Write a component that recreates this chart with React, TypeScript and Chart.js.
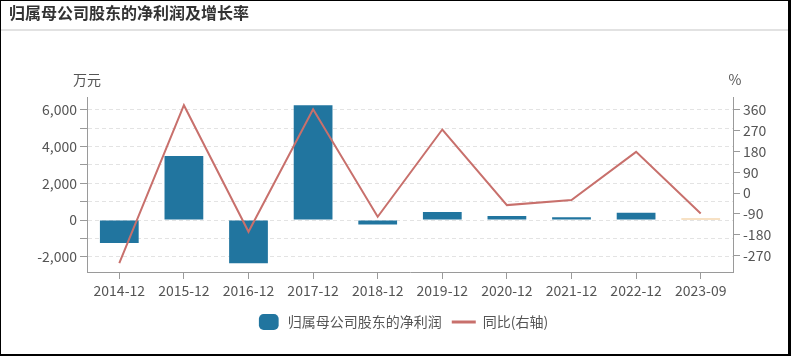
import React, { useEffect, useRef } from "react";
import { Chart, registerables } from "chart.js";

Chart.register(...registerables);

const categories = ["2014-12", "2015-12", "2016-12", "2017-12", "2018-12", "2019-12", "2020-12", "2021-12", "2022-12", "2023-09"];
const netProfit = [-1253, 3488, -2360, 6250, -250, 436, 218, 147, 403, 80];
const yoyGrowth = [-301.5, 378.6, -166.7, 361.4, -102, 274, -51.8, -30.3, 177.6, -87.6];
const leftTicks = [-2000, -1000, 0, 1000, 2000, 3000, 4000, 5000, 6000];
const rightTicks = [-270, -180, -90, 0, 90, 180, 270, 360];
const barName = "归属母公司股东的净利润";
const lineName = "同比(右轴)";
const chartTitle = "归属母公司股东的净利润及增长率";
const leftUnit = "万元";
const rightUnit = "%";

const FONT = '"Noto Sans CJK SC", "Noto Sans", sans-serif';
const BLUE = "#21759f";
const LAST = "#f0c489";
const RED = "#c8706c";
const AXIS = "#9a9a9a";
const TEXT = "#555";

const unitPlugin = {
  id: "unitTitles",
  afterDraw(chart: any) {
    const { ctx, chartArea } = chart;
    ctx.save();
    ctx.font = `14px ${FONT}`;
    ctx.fillStyle = TEXT;
    ctx.textAlign = "center";
    ctx.textBaseline = "middle";
    ctx.fillText(leftUnit, chartArea.left, chartArea.top - 17);
    ctx.fillText(rightUnit, chartArea.right + 2, chartArea.top - 17);
    ctx.restore();
  },
};

export default function App() {
  const ref = useRef<HTMLCanvasElement>(null);
  useEffect(() => {
    if (!ref.current) return;
    const chart = new Chart(ref.current, {
      type: "bar",
      data: {
        labels: categories,
        datasets: [
          {
            type: "bar",
            label: barName,
            data: netProfit,
            backgroundColor: netProfit.map((_, i) => (i === netProfit.length - 1 ? LAST : BLUE)),
            yAxisID: "y",
            order: 2,
            barPercentage: 0.6,
            categoryPercentage: 1,
          } as any,
          {
            type: "line",
            label: lineName,
            data: yoyGrowth,
            borderColor: RED,
            backgroundColor: RED,
            borderWidth: 2,
            pointRadius: 0,
            tension: 0,
            yAxisID: "y1",
            order: 1,
          } as any,
        ],
      },
      options: {
        responsive: false,
        animation: false,
        layout: { padding: { top: 97, left: 14, right: 0, bottom: 17 } },
        plugins: {
          tooltip: { enabled: false },
          legend: {
            position: "bottom",
            labels: {
              usePointStyle: true,
              pointStyleWidth: 24,
              boxHeight: 13,
              padding: 10,
              color: TEXT,
              font: { size: 14, family: FONT },
              generateLabels: () => [
                { text: barName, fillStyle: BLUE, strokeStyle: BLUE, lineWidth: 0, pointStyle: "rectRounded", datasetIndex: 0, hidden: false, fontColor: TEXT },
                { text: lineName, fillStyle: RED, strokeStyle: RED, lineWidth: 3, pointStyle: "line", datasetIndex: 1, hidden: false, fontColor: TEXT },
              ] as any,
            },
          },
        },
        scales: {
          x: {
            offset: true,
            grid: { display: true, drawOnChartArea: false, offset: false, tickLength: 7, color: AXIS },
            border: { display: true, color: AXIS },
            ticks: { color: TEXT, font: { size: 14, family: FONT }, padding: 3, maxRotation: 0, autoSkip: false },
            afterFit: (s: any) => { s.height = 33; },
          },
          y: {
            position: "left",
            min: -2830,
            max: 6700,
            afterBuildTicks: (s: any) => { s.ticks = leftTicks.map((v) => ({ value: v })); },
            afterFit: (s: any) => { s.width = 73; },
            grid: { color: "#e3e3e3", tickColor: AXIS, tickLength: 7, drawTicks: true },
            border: { display: true, color: AXIS, dash: [4, 3] },
            ticks: {
              autoSkip: false,
              color: TEXT,
              padding: 3,
              font: { size: 14, family: FONT },
              callback: (v: any) => (Number(v) % 2000 === 0 ? Number(v).toLocaleString("en-US") : ""),
            },
          },
          y1: {
            position: "right",
            min: -340,
            max: 414,
            afterBuildTicks: (s: any) => { s.ticks = rightTicks.map((v) => ({ value: v })); },
            afterFit: (s: any) => { s.width = 58; },
            grid: { drawOnChartArea: false, tickColor: AXIS, tickLength: 7 },
            border: { display: true, color: AXIS },
            ticks: { autoSkip: false, color: TEXT, padding: 3, font: { size: 14, family: FONT } },
          },
        },
      } as any,
      plugins: [unitPlugin],
    });
    return () => chart.destroy();
  }, []);

  return (
    <div style={{ position: "fixed", left: 0, top: 0, width: 791, height: 356, background: "#fff" }}>
      <canvas ref={ref} width={791} height={356} style={{ position: "absolute", left: 0, top: 0, width: 791, height: 356 }} />
      <div style={{ position: "absolute", left: 9, top: 2, fontFamily: FONT, fontWeight: "bold", fontSize: 16, lineHeight: "20px", color: "#333" }}>
        {chartTitle}
      </div>
      <div style={{ position: "absolute", left: 1, right: 3, top: 29, height: 2, background: "#e2e2e2" }} />
      <div
        style={{
          position: "absolute", left: 0, top: 0, width: 791, height: 356, boxSizing: "border-box",
          borderTop: "1px solid #000", borderLeft: "1px solid #000", borderRight: "3px solid #000", borderBottom: "2px solid #000",
          pointerEvents: "none",
        }}
      />
    </div>
  );
}
